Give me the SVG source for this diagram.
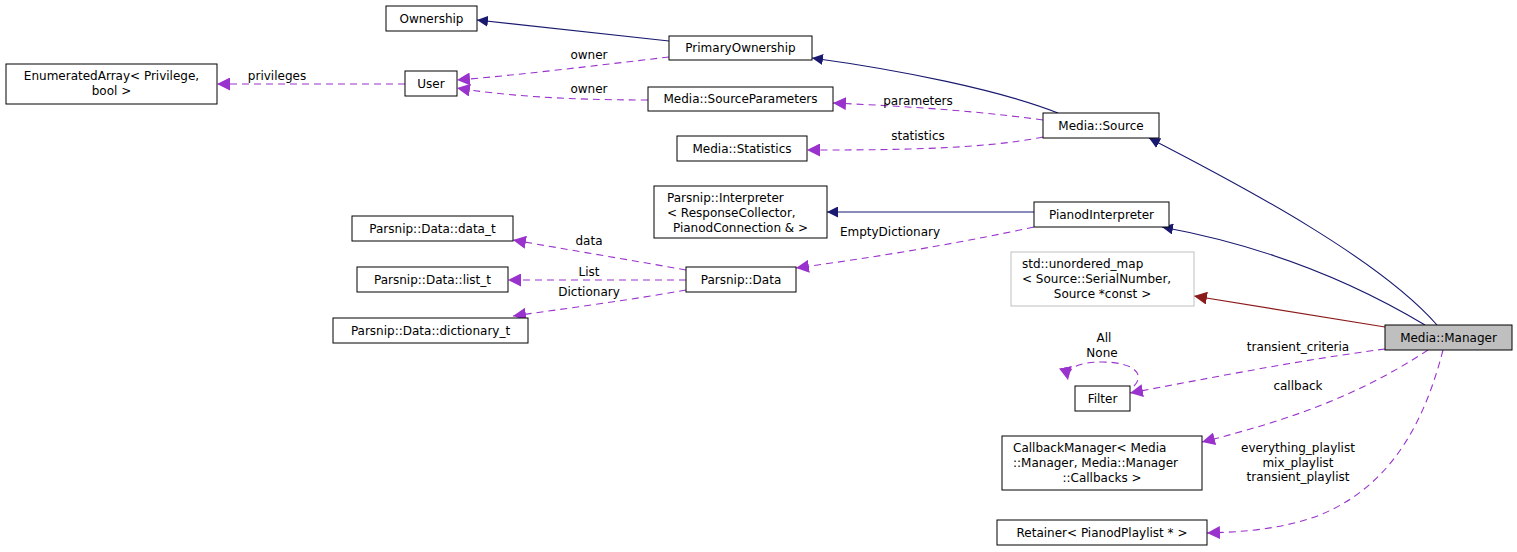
<svg xmlns="http://www.w3.org/2000/svg" width="1517" height="552" viewBox="0 0 1517 552">
<style>
text{font-family:"DejaVu Sans",sans-serif;font-size:12px;fill:#000}
.n rect{fill:#fff;stroke:#000;stroke-width:1}
.c{text-anchor:middle}
.e path{fill:none;stroke-width:1.1}
.inh{stroke:#191970}
.usg{stroke:#9a32cd;stroke-dasharray:7,5}
.tpl{stroke:#8b1a1a}
</style>
<defs>
<marker id="mn" viewBox="0 0 10 10" refX="10" refY="5" markerWidth="11" markerHeight="11" markerUnits="userSpaceOnUse" orient="auto"><path d="M0,0L10,5L0,10z" fill="#191970"/></marker>
<marker id="mp" viewBox="0 0 10 10" refX="10" refY="5" markerWidth="13" markerHeight="13" markerUnits="userSpaceOnUse" orient="auto"><path d="M0,0L10,5L0,10z" fill="#9a32cd"/></marker>
<marker id="mr" viewBox="0 0 10 10" refX="10" refY="5" markerWidth="13" markerHeight="13" markerUnits="userSpaceOnUse" orient="auto"><path d="M0,0L10,5L0,10z" fill="#8b1a1a"/></marker>
</defs>
<rect width="1517" height="552" fill="#fff"/>
<g id="edges" class="e">
<path class="inh" d="M669,41L477,20" marker-end="url(#mn)"/>
<path class="inh" d="M1058,113C1000,90 900,70 812,58" marker-end="url(#mn)"/>
<path class="inh" d="M1437,325C1380,260 1250,190 1149,138" marker-end="url(#mn)"/>
<path class="inh" d="M1425,325C1350,280 1260,245 1162,227" marker-end="url(#mn)"/>
<path class="inh" d="M1034,212L827,212" marker-end="url(#mn)"/>
<path class="tpl" d="M1385,327L1194,296" marker-end="url(#mr)"/>
<path class="usg" d="M1034,227C950,245 870,258 796,268" marker-end="url(#mp)"/>
<path class="usg" d="M1043,120C970,110 900,106 833,103" marker-end="url(#mp)"/>
<path class="usg" d="M1043,137C980,150 880,150 807,150" marker-end="url(#mp)"/>
<path class="usg" d="M669,57C600,65 520,75 457,80" marker-end="url(#mp)"/>
<path class="usg" d="M648,100C560,100 500,95 457,88" marker-end="url(#mp)"/>
<path class="usg" d="M405,84L217,84" marker-end="url(#mp)"/>
<path class="usg" d="M686,270C630,260 570,250 513,240" marker-end="url(#mp)"/>
<path class="usg" d="M686,280L508,280" marker-end="url(#mp)"/>
<path class="usg" d="M686,290C630,300 570,308 513,316" marker-end="url(#mp)"/>
<path class="usg" d="M1385,349C1300,360 1210,378 1130,393" marker-end="url(#mp)"/>
<path class="usg" d="M1134,386C1145,375 1135,362 1102,362C1075,362 1066,370 1068,380" marker-end="url(#mp)"/>
<path class="usg" d="M1428,350C1360,395 1290,420 1202,442" marker-end="url(#mp)"/>
<path class="usg" d="M1443,350C1420,440 1380,490 1320,515C1280,530 1240,532 1207,533" marker-end="url(#mp)"/>
</g>
<g class="lbl">
<text x="589" y="59" class="c">owner</text>
<text x="589" y="93" class="c">owner</text>
<text x="277" y="80" class="c">privileges</text>
<text x="918" y="105" class="c">parameters</text>
<text x="918" y="140" class="c">statistics</text>
<text x="890" y="236" class="c">EmptyDictionary</text>
<text x="589" y="245" class="c">data</text>
<text x="589" y="276" class="c">List</text>
<text x="589" y="296" class="c">Dictionary</text>
<text x="1298" y="351" class="c">transient_criteria</text>
<text x="1104" y="342" class="c">All</text>
<text x="1102" y="357" class="c">None</text>
<text x="1298" y="390" class="c">callback</text>
<text x="1298" y="452" class="c">everything_playlist</text>
<text x="1298" y="467" class="c">mix_playlist</text>
<text x="1298" y="481" class="c">transient_playlist</text>
</g>
<g id="n_ownership" class="n"><rect x="386" y="6" width="91" height="25"/><text x="431.5" y="23" class="c">Ownership</text></g>
<g id="n_primary" class="n"><rect x="669" y="36" width="143" height="24"/><text x="740.5" y="52" class="c">PrimaryOwnership</text></g>
<g id="n_enum" class="n"><rect x="6" y="64" width="211" height="40"/><text x="111.5" y="80" class="c">EnumeratedArray&lt; Privilege,</text><text x="111.5" y="95" class="c">bool &gt;</text></g>
<g id="n_user" class="n"><rect x="405" y="71" width="52" height="25"/><text x="431" y="88" class="c">User</text></g>
<g id="n_srcparam" class="n"><rect x="648" y="87" width="185" height="24"/><text x="740.5" y="103" class="c">Media::SourceParameters</text></g>
<g id="n_source" class="n"><rect x="1043" y="113" width="116" height="25"/><text x="1101" y="130" class="c">Media::Source</text></g>
<g id="n_stats" class="n"><rect x="677" y="136" width="130" height="25"/><text x="742" y="153" class="c">Media::Statistics</text></g>
<g id="n_interp" class="n"><rect x="654" y="186" width="173" height="52"/><text x="667" y="202">Parsnip::Interpreter</text><text x="667" y="217">&lt; ResponseCollector,</text><text x="740.5" y="232" class="c">PianodConnection &amp; &gt;</text></g>
<g id="n_pinterp" class="n"><rect x="1034" y="202" width="135" height="25"/><text x="1101.5" y="219" class="c">PianodInterpreter</text></g>
<g id="n_datat" class="n"><rect x="352" y="216" width="161" height="25"/><text x="432.5" y="233" class="c">Parsnip::Data::data_t</text></g>
<g id="n_data" class="n"><rect x="686" y="267" width="110" height="25"/><text x="741" y="284" class="c">Parsnip::Data</text></g>
<g id="n_listt" class="n"><rect x="357" y="267" width="151" height="25"/><text x="432.5" y="284" class="c">Parsnip::Data::list_t</text></g>
<g id="n_dictt" class="n"><rect x="333" y="318" width="195" height="25"/><text x="430.5" y="335" class="c">Parsnip::Data::dictionary_t</text></g>
<g id="n_umap" class="n"><rect x="1011" y="252" width="183" height="54" style="stroke:#bfbfbf"/><text x="1022" y="268">std::unordered_map</text><text x="1022" y="283">&lt; Source::SerialNumber,</text><text x="1102.5" y="298" class="c">Source *const &gt;</text></g>
<g id="n_manager" class="n"><rect x="1385" y="325" width="127" height="25" style="fill:#bfbfbf"/><text x="1448.5" y="342" class="c">Media::Manager</text></g>
<g id="n_filter" class="n"><rect x="1075" y="386" width="55" height="25"/><text x="1102.5" y="403" class="c">Filter</text></g>
<g id="n_cbm" class="n"><rect x="1002" y="436" width="200" height="54"/><text x="1013" y="452">CallbackManager&lt; Media</text><text x="1013" y="467">::Manager, Media::Manager</text><text x="1102" y="482" class="c">::Callbacks &gt;</text></g>
<g id="n_ret" class="n"><rect x="997" y="520" width="210" height="25"/><text x="1102" y="537" class="c">Retainer&lt; PianodPlaylist * &gt;</text></g>
</svg>
